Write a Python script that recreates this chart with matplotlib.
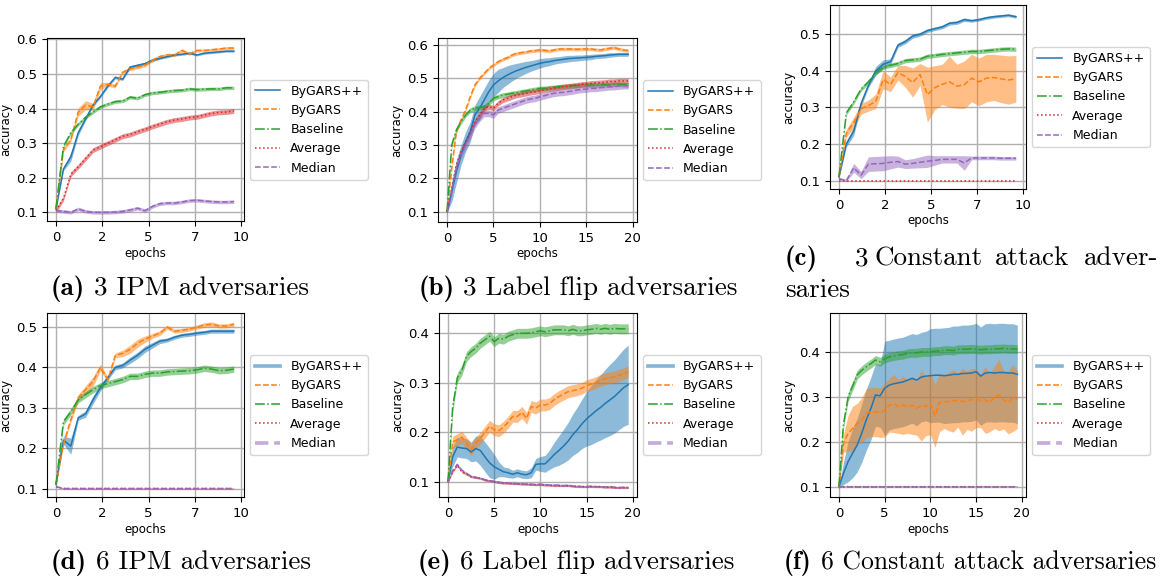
import matplotlib
matplotlib.use('Agg')
import matplotlib.pyplot as plt
import numpy as np

# epochs at which accuracy was logged
ep10 = [0.0, 0.4, 0.8, 1.2, 1.6, 2.0, 2.4, 2.8, 3.2, 3.6, 4.0, 4.4, 4.8,
        5.2, 5.6, 6.0, 6.4, 6.8, 7.2, 7.6, 8.0, 8.4, 8.8, 9.2, 9.6]
ep20 = [0.0, 0.5, 1.0, 1.5, 2.0, 2.5, 3.0, 3.5, 4.0, 4.5, 5.0, 5.5, 6.0, 6.5,
        7.0, 7.5, 8.0, 8.5, 9.0, 9.5, 10.0, 10.5, 11.0, 11.5, 12.0, 12.5, 13.0,
        13.5, 14.0, 14.5, 15.0, 15.5, 16.0, 16.5, 17.0, 17.5, 18.0, 18.5, 19.0, 19.5]

names = ['ByGARS++', 'ByGARS', 'Baseline', 'Average', 'Median']

# (a) 3 IPM adversaries
a_bygars_pp = [0.11, 0.225, 0.26, 0.33, 0.37, 0.41, 0.435, 0.465, 0.49, 0.485, 0.52, 0.525, 0.53,
               0.54, 0.545, 0.55, 0.555, 0.557, 0.56, 0.555, 0.56, 0.562, 0.564, 0.566, 0.566]
a_bygars_pp_sd = [0.002, 0.005, 0.012, 0.008, 0.005, 0.004, 0.004, 0.004, 0.004, 0.004, 0.004, 0.004, 0.004,
                  0.004, 0.003, 0.003, 0.003, 0.003, 0.003, 0.003, 0.003, 0.003, 0.003, 0.003, 0.003]
a_bygars = [0.11, 0.28, 0.31, 0.39, 0.41, 0.405, 0.465, 0.47, 0.465, 0.505, 0.515, 0.52, 0.525,
            0.54, 0.55, 0.555, 0.555, 0.568, 0.558, 0.568, 0.568, 0.57, 0.572, 0.575, 0.575]
a_bygars_sd = [0.002, 0.005, 0.006, 0.012, 0.013, 0.01, 0.01, 0.006, 0.005, 0.005, 0.005, 0.005, 0.005,
               0.005, 0.005, 0.005, 0.005, 0.005, 0.004, 0.004, 0.004, 0.004, 0.004, 0.004, 0.004]
a_baseline = [0.11, 0.29, 0.33, 0.355, 0.375, 0.39, 0.405, 0.413, 0.42, 0.422, 0.433, 0.43, 0.44,
              0.445, 0.447, 0.45, 0.452, 0.453, 0.457, 0.455, 0.456, 0.457, 0.457, 0.46, 0.46]
a_average = [0.105, 0.14, 0.21, 0.232, 0.256, 0.28, 0.29, 0.3, 0.31, 0.32, 0.325, 0.333, 0.34,
             0.348, 0.355, 0.362, 0.367, 0.37, 0.374, 0.376, 0.381, 0.386, 0.389, 0.39, 0.393]
a_median = [0.105, 0.103, 0.1, 0.11, 0.103, 0.1, 0.1, 0.1, 0.101, 0.103, 0.107, 0.112, 0.105,
            0.117, 0.125, 0.127, 0.127, 0.13, 0.134, 0.135, 0.133, 0.131, 0.13, 0.13, 0.131]

# (b) 3 Label flip adversaries
b_bygars_pp = [0.1, 0.16, 0.22, 0.27, 0.31, 0.34, 0.39, 0.41, 0.435, 0.46,
               0.48, 0.492, 0.502, 0.51, 0.517, 0.523, 0.528, 0.533, 0.537, 0.541,
               0.545, 0.548, 0.55, 0.553, 0.555, 0.557, 0.559, 0.56, 0.561, 0.562,
               0.563, 0.564, 0.566, 0.567, 0.568, 0.57, 0.571, 0.572, 0.572, 0.572]
b_bygars_pp_sd = [0.002, 0.03, 0.035, 0.03, 0.03, 0.03, 0.03, 0.035, 0.035, 0.035,
                  0.035, 0.035, 0.03, 0.028, 0.025, 0.022, 0.02, 0.018, 0.016, 0.015,
                  0.014, 0.013, 0.012, 0.011, 0.01, 0.01, 0.01, 0.009, 0.009, 0.008,
                  0.008, 0.008, 0.007, 0.007, 0.007, 0.007, 0.006, 0.006, 0.006, 0.006]
b_bygars = [0.1, 0.23, 0.34, 0.375, 0.405, 0.445, 0.48, 0.5, 0.515, 0.53,
            0.54, 0.55, 0.557, 0.562, 0.57, 0.575, 0.577, 0.579, 0.582, 0.583,
            0.585, 0.584, 0.582, 0.585, 0.588, 0.588, 0.588, 0.588, 0.587, 0.588,
            0.588, 0.588, 0.586, 0.585, 0.588, 0.59, 0.592, 0.588, 0.585, 0.583]
b_baseline = [0.1, 0.3, 0.345, 0.37, 0.39, 0.405, 0.41, 0.412, 0.415, 0.425,
              0.44, 0.445, 0.45, 0.452, 0.455, 0.457, 0.46, 0.462, 0.465, 0.467,
              0.47, 0.47, 0.472, 0.473, 0.475, 0.475, 0.477, 0.478, 0.478, 0.48,
              0.48, 0.48, 0.48, 0.48, 0.481, 0.48, 0.482, 0.482, 0.481, 0.48]
b_average = [0.1, 0.17, 0.24, 0.28, 0.31, 0.34, 0.37, 0.39, 0.41, 0.415,
             0.41, 0.425, 0.435, 0.44, 0.445, 0.45, 0.452, 0.455, 0.458, 0.46,
             0.463, 0.466, 0.468, 0.47, 0.472, 0.475, 0.476, 0.478, 0.48, 0.482,
             0.483, 0.485, 0.486, 0.487, 0.488, 0.49, 0.49, 0.492, 0.492, 0.492]
b_median = [0.1, 0.16, 0.23, 0.27, 0.3, 0.33, 0.36, 0.38, 0.395, 0.395,
            0.39, 0.405, 0.41, 0.415, 0.42, 0.425, 0.43, 0.435, 0.438, 0.44,
            0.445, 0.448, 0.452, 0.455, 0.457, 0.458, 0.46, 0.462, 0.465, 0.467,
            0.468, 0.47, 0.47, 0.472, 0.473, 0.475, 0.475, 0.477, 0.478, 0.478]

# (c) 3 Constant attack adversaries
c_bygars_pp = [0.11, 0.2, 0.235, 0.31, 0.36, 0.4, 0.418, 0.425, 0.47, 0.48, 0.495, 0.5, 0.51,
               0.515, 0.52, 0.53, 0.532, 0.54, 0.537, 0.54, 0.545, 0.548, 0.55, 0.552, 0.548]
c_bygars_pp_sd = [0.003, 0.008, 0.012, 0.008, 0.006, 0.012, 0.012, 0.008, 0.006, 0.006, 0.006, 0.005, 0.005,
                  0.005, 0.005, 0.005, 0.005, 0.005, 0.004, 0.004, 0.004, 0.004, 0.004, 0.004, 0.004]
c_bygars = [0.11, 0.23, 0.258, 0.296, 0.305, 0.317, 0.376, 0.363, 0.395, 0.385, 0.368, 0.39, 0.335,
            0.354, 0.363, 0.37, 0.358, 0.362, 0.38, 0.37, 0.38, 0.382, 0.378, 0.375, 0.378]
c_bygars_sd = [0.003, 0.01, 0.015, 0.015, 0.015, 0.02, 0.025, 0.02, 0.02, 0.03, 0.04, 0.03, 0.075,
               0.06, 0.055, 0.07, 0.06, 0.065, 0.065, 0.065, 0.065, 0.063, 0.065, 0.066, 0.064]
c_baseline = [0.11, 0.285, 0.315, 0.35, 0.37, 0.395, 0.41, 0.415, 0.42, 0.428, 0.43, 0.432, 0.44,
              0.442, 0.445, 0.447, 0.449, 0.451, 0.453, 0.453, 0.455, 0.457, 0.459, 0.46, 0.459]
c_average = [0.1] * 25
c_median = [0.105, 0.1, 0.135, 0.115, 0.145, 0.146, 0.147, 0.15, 0.152, 0.145, 0.147, 0.15, 0.153,
            0.155, 0.158, 0.158, 0.158, 0.148, 0.162, 0.162, 0.162, 0.162, 0.161, 0.161, 0.161]
c_median_sd = [0.003, 0.003, 0.012, 0.01, 0.02, 0.02, 0.02, 0.018, 0.015, 0.012, 0.013, 0.015, 0.017,
               0.013, 0.01, 0.01, 0.01, 0.02, 0.005, 0.005, 0.005, 0.005, 0.005, 0.005, 0.005]

# (d) 6 IPM adversaries
d_bygars_pp = [0.11, 0.22, 0.205, 0.275, 0.285, 0.32, 0.35, 0.375, 0.4, 0.405, 0.418, 0.43, 0.445,
               0.455, 0.465, 0.468, 0.475, 0.48, 0.482, 0.485, 0.487, 0.49, 0.49, 0.49, 0.49]
d_bygars_pp_sd = [0.002, 0.01, 0.02, 0.006, 0.008, 0.01, 0.008, 0.006, 0.006, 0.006, 0.008, 0.008, 0.008,
                  0.007, 0.006, 0.005, 0.005, 0.005, 0.005, 0.005, 0.005, 0.005, 0.005, 0.005, 0.005]
d_bygars = [0.11, 0.21, 0.27, 0.325, 0.345, 0.365, 0.4, 0.37, 0.43, 0.435, 0.445, 0.46, 0.47,
            0.478, 0.485, 0.5, 0.49, 0.492, 0.495, 0.5, 0.505, 0.507, 0.503, 0.503, 0.507]
d_bygars_sd = [0.002, 0.005, 0.006, 0.008, 0.01, 0.012, 0.008, 0.006, 0.006, 0.008, 0.01, 0.01, 0.008,
               0.006, 0.006, 0.005, 0.005, 0.005, 0.005, 0.005, 0.006, 0.006, 0.005, 0.005, 0.005]
d_baseline = [0.11, 0.265, 0.29, 0.32, 0.333, 0.345, 0.355, 0.36, 0.365, 0.37, 0.378, 0.378, 0.383,
              0.386, 0.386, 0.389, 0.39, 0.391, 0.392, 0.394, 0.398, 0.396, 0.392, 0.393, 0.396]
d_average = [0.105] + [0.1] * 24
d_median = [0.105] + [0.1] * 24

# (e) 6 Label flip adversaries
e_bygars_pp = [0.1, 0.15, 0.17, 0.168, 0.167, 0.16, 0.167, 0.163, 0.15, 0.138,
               0.13, 0.125, 0.12, 0.118, 0.115, 0.118, 0.115, 0.114, 0.118, 0.135,
               0.136, 0.136, 0.145, 0.155, 0.163, 0.172, 0.182, 0.195, 0.205, 0.217,
               0.227, 0.235, 0.243, 0.25, 0.258, 0.265, 0.272, 0.281, 0.29, 0.296]
e_bygars_pp_sd = [0.002, 0.02, 0.02, 0.02, 0.02, 0.02, 0.025, 0.03, 0.03, 0.03,
                  0.025, 0.015, 0.01, 0.01, 0.008, 0.008, 0.008, 0.008, 0.01, 0.012,
                  0.015, 0.017, 0.02, 0.025, 0.03, 0.034, 0.038, 0.042, 0.046, 0.05,
                  0.055, 0.06, 0.063, 0.066, 0.069, 0.072, 0.074, 0.076, 0.078, 0.08]
e_bygars = [0.1, 0.18, 0.185, 0.19, 0.178, 0.165, 0.178, 0.188, 0.2, 0.212,
            0.205, 0.203, 0.21, 0.22, 0.232, 0.232, 0.24, 0.228, 0.252, 0.249,
            0.255, 0.255, 0.258, 0.266, 0.272, 0.277, 0.282, 0.284, 0.286, 0.289,
            0.294, 0.297, 0.3, 0.305, 0.308, 0.31, 0.312, 0.315, 0.318, 0.322]
e_baseline = [0.1, 0.25, 0.31, 0.325, 0.353, 0.363, 0.37, 0.38, 0.387, 0.394,
              0.383, 0.39, 0.388, 0.394, 0.397, 0.4, 0.4, 0.4, 0.401, 0.403,
              0.405, 0.403, 0.405, 0.407, 0.407, 0.407, 0.405, 0.408, 0.405, 0.405,
              0.407, 0.408, 0.41, 0.408, 0.41, 0.408, 0.41, 0.409, 0.409, 0.409]
e_average = [0.1, 0.12, 0.133, 0.12, 0.115, 0.11, 0.108, 0.107, 0.103, 0.102,
             0.1, 0.098, 0.097, 0.097, 0.096, 0.096, 0.095, 0.095, 0.094, 0.094,
             0.094, 0.093, 0.093, 0.092, 0.092, 0.092, 0.092, 0.091, 0.09, 0.09,
             0.09, 0.09, 0.09, 0.09, 0.089, 0.089, 0.088, 0.088, 0.088, 0.088]
e_median = [0.1, 0.122, 0.135, 0.123, 0.117, 0.111, 0.109, 0.107, 0.104, 0.102,
            0.101, 0.099, 0.098, 0.097, 0.097, 0.096, 0.096, 0.095, 0.095, 0.094,
            0.095, 0.094, 0.093, 0.093, 0.093, 0.092, 0.093, 0.091, 0.091, 0.09,
            0.09, 0.091, 0.09, 0.09, 0.089, 0.09, 0.089, 0.088, 0.089, 0.088]

# (f) 6 Constant attack adversaries
f_bygars_pp = [0.1, 0.13, 0.156, 0.175, 0.193, 0.22, 0.25, 0.275, 0.305, 0.303,
               0.32, 0.327, 0.33, 0.332, 0.334, 0.338, 0.342, 0.338, 0.345, 0.347,
               0.348, 0.349, 0.349, 0.348, 0.349, 0.351, 0.351, 0.353, 0.353, 0.354,
               0.357, 0.347, 0.354, 0.355, 0.354, 0.355, 0.355, 0.354, 0.354, 0.351]
f_bygars_pp_sd = [0.003, 0.025, 0.045, 0.055, 0.06, 0.065, 0.068, 0.07, 0.07, 0.07,
                  0.105, 0.1, 0.1, 0.1, 0.1, 0.1, 0.1, 0.102, 0.1, 0.1,
                  0.105, 0.105, 0.105, 0.107, 0.107, 0.108, 0.108, 0.108, 0.108, 0.108,
                  0.108, 0.11, 0.11, 0.11, 0.11, 0.11, 0.11, 0.11, 0.11, 0.11]
f_bygars = [0.1, 0.197, 0.219, 0.23, 0.241, 0.249, 0.264, 0.267, 0.267, 0.265,
            0.271, 0.282, 0.286, 0.279, 0.282, 0.279, 0.282, 0.275, 0.282, 0.279,
            0.286, 0.258, 0.288, 0.29, 0.29, 0.292, 0.293, 0.29, 0.293, 0.294,
            0.297, 0.292, 0.294, 0.288, 0.3, 0.305, 0.294, 0.288, 0.298, 0.295]
f_bygars_sd = [0.005, 0.02, 0.04, 0.05, 0.045, 0.05, 0.055, 0.055, 0.055, 0.055,
               0.06, 0.06, 0.065, 0.06, 0.065, 0.06, 0.065, 0.06, 0.08, 0.065,
               0.07, 0.07, 0.065, 0.06, 0.065, 0.07, 0.06, 0.075, 0.065, 0.07,
               0.065, 0.06, 0.075, 0.065, 0.07, 0.08, 0.065, 0.07, 0.075, 0.065]
f_baseline = [0.1, 0.24, 0.3, 0.325, 0.35, 0.36, 0.368, 0.375, 0.383, 0.379,
              0.386, 0.39, 0.392, 0.394, 0.395, 0.398, 0.399, 0.399, 0.401, 0.401,
              0.401, 0.403, 0.403, 0.405, 0.405, 0.404, 0.407, 0.407, 0.407, 0.408,
              0.407, 0.406, 0.407, 0.407, 0.408, 0.408, 0.409, 0.408, 0.408, 0.407]
f_average = [0.098] + [0.1] * 39
f_median = [0.1] * 40

styles = {
    'ByGARS++': dict(color='C0', ls='-'),
    'ByGARS': dict(color='C1', ls='--'),
    'Baseline': dict(color='C2', ls='-.'),
    'Average': dict(color='C3', ls=':'),
    'Median': dict(color='C4', ls='--'),
}

W, H = 1168, 580
fig = plt.figure(figsize=(W / 100, H / 100), dpi=100)


def box(l, t, r, b):
    return [l / W, 1 - b / H, (r - l) / W, (b - t) / H]


def panel(rect, ep, curves, xticks, yticks, xlim, ylim, thick=()):
    ax = fig.add_axes(rect)
    for name in names:
        mean, sd = curves[name]
        m = np.asarray(mean)
        s = np.broadcast_to(np.asarray(sd, dtype=float), m.shape)
        st = styles[name]
        ax.fill_between(ep, m - s, m + s, color=st['color'], alpha=0.5, lw=0)
        ax.plot(ep, m, color=st['color'], ls=st['ls'], lw=1.1, label=name)
    ax.set_xticks(xticks)
    ax.set_xticklabels([str(int(t)) for t in xticks])
    ax.set_yticks(yticks)
    ax.set_xlim(*xlim)
    ax.set_ylim(*ylim)
    ax.grid(True, color='#b0b0b0', lw=1.0)
    ax.set_axisbelow(True)
    ax.tick_params(labelsize=9.5)
    ax.set_xlabel('epochs', fontsize=8.5, labelpad=2)
    ax.set_ylabel('accuracy', fontsize=8.5, labelpad=3)
    leg = ax.legend(loc='center left', bbox_to_anchor=(1.0, 0.5), fontsize=9)
    for line in leg.get_lines():
        if line.get_label() in thick:
            line.set_linewidth(2.6)
            line.set_alpha(0.55)
    return ax


xt10 = [0, 2.5, 5, 7.5, 10]
xt20 = [0, 5, 10, 15, 20]
xl10 = (-0.485, 10.15)
xl20 = (-0.975, 20.45)

panel(box(47, 38, 244, 221), ep10,
      {'ByGARS++': (a_bygars_pp, a_bygars_pp_sd), 'ByGARS': (a_bygars, a_bygars_sd),
       'Baseline': (a_baseline, 0.005), 'Average': (a_average, 0.007), 'Median': (a_median, 0.005)},
      xt10, [0.1, 0.2, 0.3, 0.4, 0.5, 0.6], xl10, (0.075, 0.604))

panel(box(438, 38, 637, 222), ep20,
      {'ByGARS++': (b_bygars_pp, b_bygars_pp_sd), 'ByGARS': (b_bygars, 0.005),
       'Baseline': (b_baseline, 0.007), 'Average': (b_average, 0.008), 'Median': (b_median, 0.01)},
      xt20, [0.1, 0.2, 0.3, 0.4, 0.5, 0.6], xl20, (0.069, 0.621))

panel(box(830, 5, 1026, 189), ep10,
      {'ByGARS++': (c_bygars_pp, c_bygars_pp_sd), 'ByGARS': (c_bygars, c_bygars_sd),
       'Baseline': (c_baseline, 0.006), 'Average': (c_average, 0.0), 'Median': (c_median, c_median_sd)},
      xt10, [0.1, 0.2, 0.3, 0.4, 0.5], xl10, (0.077, 0.58))

panel(box(47, 313, 244, 497), ep10,
      {'ByGARS++': (d_bygars_pp, d_bygars_pp_sd), 'ByGARS': (d_bygars, d_bygars_sd),
       'Baseline': (d_baseline, 0.008), 'Average': (d_average, 0.001), 'Median': (d_median, 0.001)},
      xt10, [0.1, 0.2, 0.3, 0.4, 0.5], xl10, (0.079, 0.535), thick=('ByGARS++', 'Median'))

panel(box(439, 313, 637, 497), ep20,
      {'ByGARS++': (e_bygars_pp, e_bygars_pp_sd), 'ByGARS': (e_bygars, 0.012),
       'Baseline': (e_baseline, 0.01), 'Average': (e_average, 0.002), 'Median': (e_median, 0.002)},
      xt20, [0.1, 0.2, 0.3, 0.4], xl20, (0.069, 0.441), thick=('ByGARS++', 'Median'))

panel(box(830, 313, 1026, 497), ep20,
      {'ByGARS++': (f_bygars_pp, f_bygars_pp_sd), 'ByGARS': (f_bygars, f_bygars_sd),
       'Baseline': (f_baseline, 0.01), 'Average': (f_average, 0.0), 'Median': (f_median, 0.001)},
      xt20, [0.1, 0.2, 0.3, 0.4], xl20, (0.077, 0.488), thick=('ByGARS++', 'Median'))

# sub-figure captions: bold letter in cmb10, the rest in cmr10
CAP_SIZE = 19.5
renderer = fig.canvas.get_renderer()


def word(x, y, s, bold=False, ha='left', size=CAP_SIZE):
    t = fig.text(x / W, 1 - y / H, s, fontsize=size, family='cmb10' if bold else 'cmr10',
                 va='baseline', ha=ha)
    return t, t.get_window_extent(renderer).width


def caption(cx, y, letter, text, size=CAP_SIZE):
    gap = size * 100 / 72 * 0.333
    t1, w1 = word(0, y, '(' + letter + ')', bold=True, size=size)
    t2, w2 = word(0, y, text, size=size)
    x0 = cx - (w1 + gap + w2) / 2
    t1.set_x(x0 / W)
    t2.set_x((x0 + w1 + gap) / W)


caption(180, 295, 'a', '3 IPM adversaries')
caption(578, 295, 'b', '3 Label flip adversaries')
caption(181, 569, 'd', '6 IPM adversaries')
caption(576, 569, 'e', '6 Label flip adversaries')
caption(970, 569, 'f', '6 Constant attack adversaries', size=18.5)

# (c) is justified over two lines
word(785, 265, '(c)', bold=True)
word(855, 265, '3')
word(874, 265, 'Constant')
word(995, 265, 'attack')
word(1158, 265, 'adver-', ha='right')
word(785, 297, 'saries')

fig.savefig('out.png', dpi=100)
